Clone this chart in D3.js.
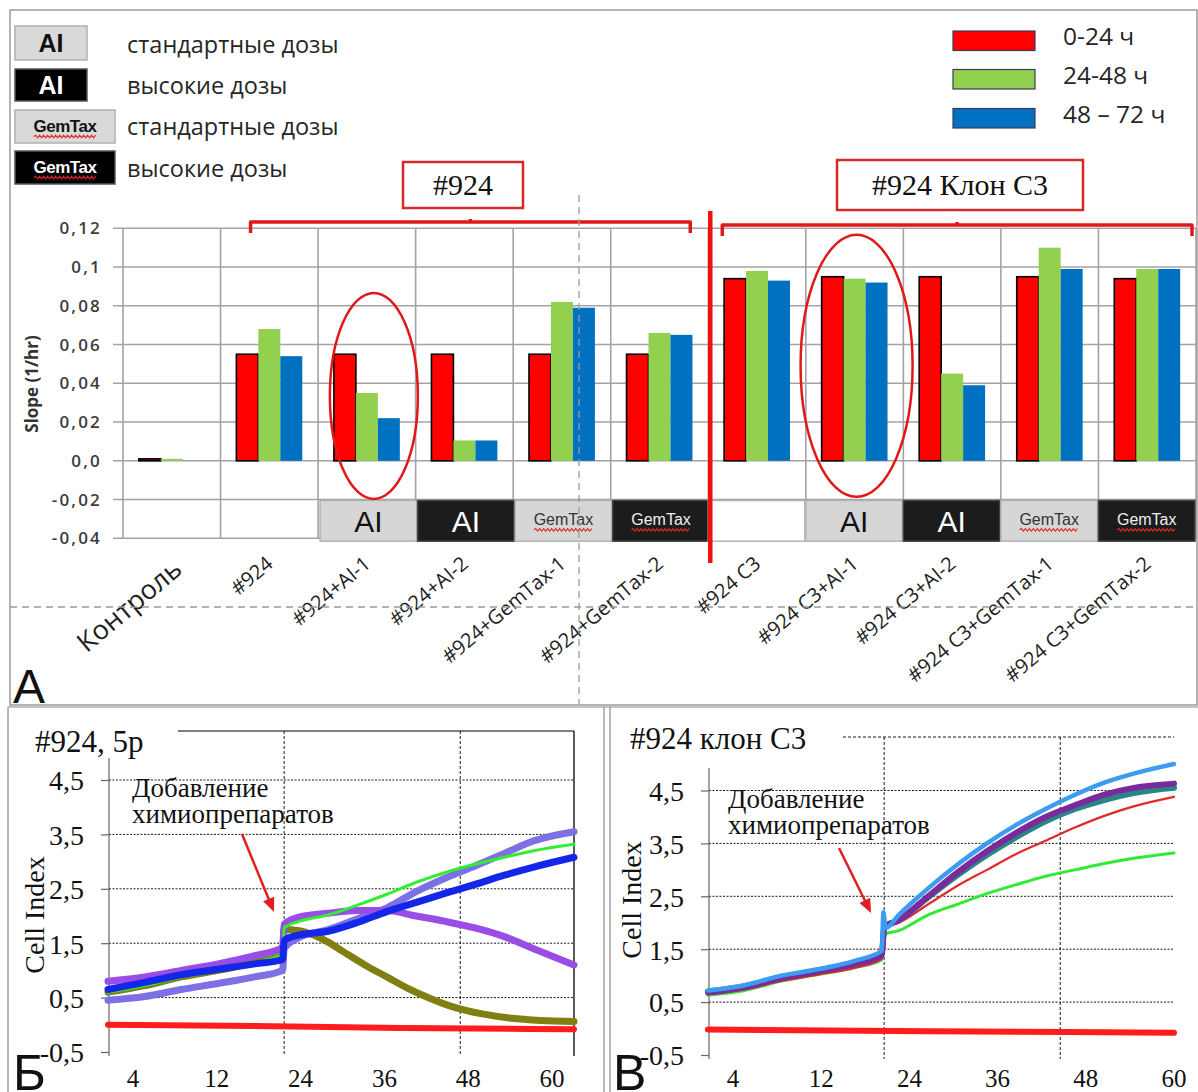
<!DOCTYPE html>
<html><head><meta charset="utf-8">
<script src="https://cdn.jsdelivr.net/npm/d3@7"></script>
<style>body{margin:0;background:#fff}svg{display:block}</style>
</head><body><svg id="chart" width="1198" height="1092"></svg>
<script>
// ---------- DATA: panel A (bar chart) ----------
const barCategories = ["Контроль","#924","#924+AI-1","#924+AI-2","#924+GemTax-1","#924+GemTax-2","#924 C3","#924 C3+AI-1","#924 C3+AI-2","#924 C3+GemTax-1","#924 C3+GemTax-2"];
const seriesNames = ["0-24 ч","24-48 ч","48 – 72 ч"];
const seriesColors = ["#ff0000","#92d050","#0070c0"];
const slope0to24  = [0.001,0.055,0.055,0.055,0.055,0.055,0.094,0.095,0.095,0.095,0.094];
const slope24to48 = [0.001,0.068,0.035,0.0105,0.082,0.066,0.098,0.094,0.045,0.110,0.099];
const slope48to72 = [0.000,0.054,0.022,0.0105,0.079,0.065,0.093,0.092,0.039,0.099,0.099];
const slopeTicks = [-0.04,-0.02,0,0.02,0.04,0.06,0.08,0.1,0.12];
const slopeTickLabels = ["-0,04","-0,02","0,0","0,02","0,04","0,06","0,08","0,1","0,12"];
const doseBoxCats   = ["#924+AI-1","#924+AI-2","#924+GemTax-1","#924+GemTax-2","#924 C3","#924 C3+AI-1","#924 C3+AI-2","#924 C3+GemTax-1","#924 C3+GemTax-2"];
const doseBoxLabels = ["AI","AI","GemTax","GemTax","","AI","AI","GemTax","GemTax"];
const doseBoxKinds  = ["std","high","std","high","none","std","high","std","high"];
const legendBoxLabels = ["AI","AI","GemTax","GemTax"];
const legendBoxKinds  = ["std","high","std","high"];
const legendTexts = ["стандартные дозы","высокие дозы","стандартные дозы","высокие дозы"];

// ---------- DATA: panels Б and В (cell index curves, [hour, CI]) ----------
const timeTickLabels = ["4","12","24","36","48","60"];
const ciTicks = [-0.5,0.5,1.5,2.5,3.5,4.5];
const ciTickLabels = ["-0,5","0,5","1,5","2,5","3,5","4,5"];
const gridHours = [24,48];

const b_control = [[0,0.0],[20,-0.02],[40,-0.06],[63.5,-0.08]];
const b_olive  = [[0,0.6],[5,0.72],[10,0.88],[15,1.0],[20,1.15],[23.8,1.28],[24,1.75],[26,1.73],[28,1.65],[30,1.52],[32,1.35],[35,1.1],[38,0.88],[41,0.66],[44,0.48],[47,0.33],[51,0.2],[55,0.12],[59,0.08],[63.5,0.06]];
const b_slate  = [[0,0.45],[5,0.52],[10,0.65],[15,0.76],[20,0.88],[23.8,1.0],[24,1.4],[26,1.6],[30,1.75],[34,1.95],[38,2.15],[42,2.45],[46,2.7],[50,2.92],[54,3.15],[58,3.38],[63.5,3.55]];
const b_purple = [[0,0.8],[5,0.88],[10,1.0],[15,1.12],[20,1.27],[23.8,1.42],[24,1.85],[26,1.98],[30,2.05],[34,2.1],[38,2.1],[42,2.0],[46,1.9],[50,1.78],[54,1.62],[58,1.4],[63.5,1.1]];
const b_green  = [[0,0.6],[5,0.72],[10,0.88],[15,1.0],[20,1.15],[23.8,1.3],[24,1.78],[26,1.9],[30,2.02],[34,2.2],[38,2.4],[42,2.62],[46,2.8],[50,2.95],[54,3.08],[58,3.2],[63.5,3.32]];
const b_blue   = [[0,0.65],[5,0.78],[10,0.92],[15,1.02],[20,1.12],[23.8,1.2],[24,1.55],[26,1.65],[30,1.72],[34,1.88],[38,2.08],[42,2.25],[46,2.42],[50,2.58],[54,2.75],[58,2.9],[63.5,3.08]];

const v_control = [[0,-0.02],[30,-0.05],[63.5,-0.08]];
const v_red     = [[0,0.65],[5,0.74],[10,0.9],[15,1.02],[20,1.15],[23.7,1.32],[24,1.9],[26,2.0],[30,2.35],[34,2.7],[38,3.0],[42,3.3],[46,3.55],[50,3.8],[54,4.02],[58,4.2],[63.5,4.38]];
const v_green   = [[0,0.63],[5,0.72],[10,0.9],[15,1.02],[20,1.15],[23.7,1.3],[24,1.78],[26,1.85],[30,2.15],[34,2.35],[38,2.55],[42,2.72],[46,2.88],[50,3.0],[54,3.12],[58,3.22],[63.5,3.32]];
const v_teal    = [[0,0.7],[5,0.8],[10,0.97],[15,1.1],[20,1.25],[23.7,1.42],[24,1.92],[26,2.05],[30,2.48],[34,2.9],[38,3.28],[42,3.62],[46,3.92],[50,4.15],[54,4.32],[58,4.45],[63.5,4.55]];
const v_purple  = [[0,0.68],[5,0.78],[10,0.95],[15,1.08],[20,1.22],[23.7,1.38],[24,1.9],[26,2.05],[30,2.5],[34,2.95],[38,3.35],[42,3.7],[46,4.0],[50,4.22],[54,4.42],[58,4.55],[63.5,4.63]];
const v_lblue   = [[0,0.72],[5,0.82],[10,1.0],[15,1.12],[20,1.28],[23.7,1.47],[23.9,2.2],[24.2,1.9],[26,2.15],[30,2.65],[34,3.1],[38,3.5],[42,3.85],[46,4.15],[50,4.42],[54,4.65],[58,4.82],[63.5,5.0]];

// ---------- drawing ----------
const svg = d3.select("#chart");
const SANS = "'Open Sans', 'Noto Sans', sans-serif";
const ARIAL = "'Liberation Sans', Arial, sans-serif";
const SERIF = "'Liberation Serif', 'Times New Roman', serif";

function wavy(g, x0, x1, y) {
  let d = `M${x0},${y}`, up = true;
  for (let x = x0 + 2; x <= x1; x += 2) { d += `L${x},${y + (up ? -1.3 : 1.3)}`; up = !up; }
  g.append("path").attr("d", d).attr("fill","none").attr("stroke","#e02828").attr("stroke-width",1.1);
}
function boxFill(k){ return k==="std" ? "#d6d6d6" : k==="high" ? "#1c1c1c" : "#ffffff"; }
function boxText(k){ return k==="high" ? "#ffffff" : "#111111"; }

// frames
svg.append("rect").attr("x",10).attr("y",10).attr("width",1187).attr("height",695)
  .attr("fill","none").attr("stroke","#8c8c8c").attr("stroke-width",1.3);
[[8,707,8,1092],[604,707,604,1092],[610,707,610,1092],[8,707,1198,707]].forEach(l=>
  svg.append("line").attr("x1",l[0]).attr("y1",l[1]).attr("x2",l[2]).attr("y2",l[3]).attr("stroke","#8c8c8c").attr("stroke-width",1.2));

// ---------- Panel A ----------
const A = svg.append("g");
const xA = d3.scaleBand().domain(barCategories).range([123,1196]);
const bw = xA.bandwidth();
const xSub = d3.scaleBand().domain(seriesNames).range([0,bw]).paddingInner(0).paddingOuter(0.72);
const yA = d3.scaleLinear().domain([-0.04,0.12]).range([538.3,228.3]);

// gridlines
A.selectAll(".hg").data(slopeTicks).join("line")
  .attr("x1",113).attr("x2",1196).attr("y1",d=>yA(d)).attr("y2",d=>yA(d))
  .attr("stroke","#a3a3a3").attr("stroke-width",1.6);
A.selectAll(".vg").data(barCategories.map(c=>xA(c)).concat([1196])).join("line")
  .attr("x1",d=>d).attr("x2",d=>d).attr("y1",yA(0.12)).attr("y2",yA(-0.04))
  .attr("stroke","#a3a3a3").attr("stroke-width",1.6);

// y axis labels
const yAxisA = d3.axisLeft(yA).tickValues(slopeTicks).tickFormat((d,i)=>slopeTickLabels[i]).tickSize(0).tickPadding(21);
const ga = A.append("g").attr("transform","translate(123,0)").call(yAxisA);
ga.select(".domain").remove();
ga.selectAll("text").attr("font-family",SANS).attr("font-size",17).attr("font-weight",600)
  .attr("fill","#3c3c3c").attr("letter-spacing",2.2);
A.append("text").attr("transform","translate(38,384) rotate(-90)").attr("text-anchor","middle")
  .attr("font-family",SANS).attr("font-size",17).attr("font-weight",700).attr("fill","#333").text("Slope (1/hr)");

// bars
const seriesValues = [slope0to24, slope24to48, slope48to72];
seriesNames.forEach((s,si)=>{
  A.append("g").selectAll("rect").data(barCategories).join("rect")
    .attr("x",c=>xA(c)+xSub(s)).attr("width",xSub.bandwidth())
    .attr("y",(c,i)=>yA(Math.max(0,seriesValues[si][i])))
    .attr("height",(c,i)=>Math.abs(yA(seriesValues[si][i])-yA(0)))
    .attr("fill",seriesColors[si])
    .attr("stroke",si===0?"#000":"none").attr("stroke-width",si===0?1.6:0);
});

// dose boxes under bars
doseBoxCats.forEach((c,i)=>{
  const k = doseBoxKinds[i];
  const x0 = xA(c)+ (i<4 ? 2 : 0), w = bw - 1;
  const y0 = yA(-0.0205), h = yA(-0.0415) - yA(-0.0205);
  A.append("rect").attr("x",x0).attr("y",y0).attr("width",w).attr("height",h)
    .attr("fill",boxFill(k)).attr("stroke",k==="high"?"#444":"#b4b4b4").attr("stroke-width",1.5);
  const lab = doseBoxLabels[i];
  if (!lab) return;
  const t = A.append("text").attr("x",x0+w/2).attr("text-anchor","middle").attr("font-family",ARIAL).attr("fill",boxText(k)).text(lab);
  if (lab==="AI") { t.attr("y",y0+h/2+11).attr("font-size",30); }
  else {
    t.attr("y",y0+h/2+4).attr("font-size",16).attr("fill",k==="high"?"#eeeeee":"#333");
    const L = t.node().getComputedTextLength();
    wavy(A, x0+w/2-L/2, x0+w/2+L/2, y0+h/2+9);
  }
});

// x labels
A.selectAll(".xl").data(barCategories).join("text")
  .attr("transform",(d,i)=>`translate(${xA(d)+bw/2+(i===0?12:5)},${i===0?572:566}) rotate(-40)`)
  .attr("text-anchor","end").attr("font-family",SANS).attr("font-weight",(d,i)=>i===0?400:500)
  .attr("font-size",(d,i)=>i===0?27:20).attr("fill","#1e1e1e").text(d=>d);

// red ellipses
const cE1 = xA("#924+AI-1")+bw/2+7, cE2 = xA("#924 C3+AI-1")+bw/2+2;
A.append("ellipse").attr("cx",cE1).attr("cy",yA(0.0335)).attr("rx",44).attr("ry",103)
  .attr("fill","none").attr("stroke","#e01818").attr("stroke-width",2.5);
A.append("ellipse").attr("cx",cE2).attr("cy",yA(0.049)).attr("rx",56).attr("ry",131)
  .attr("fill","none").attr("stroke","#e01818").attr("stroke-width",2.5);

// brackets
function bracket(x0,x1,y){
  const m=(x0+x1)/2;
  A.append("path").attr("d",`M${x0},${y+11}L${x0},${y}L${x1},${y}L${x1},${y+11}M${m},${y}L${m},${y-3}`)
   .attr("fill","none").attr("stroke","#e01818").attr("stroke-width",3.5).attr("stroke-linejoin","round");
}
bracket(xA("#924")+30, xA("#924+GemTax-2")+bw-18, 222);
bracket(xA("#924 C3")+14, 1192, 225);
// vertical red separator
A.append("line").attr("x1",xA("#924 C3")+2).attr("x2",xA("#924 C3")+2).attr("y1",211).attr("y2",563)
  .attr("stroke","#ee1111").attr("stroke-width",4.5);

// group title boxes
function titleBox(x,y,w,h,txt){
  A.append("rect").attr("x",x).attr("y",y).attr("width",w).attr("height",h).attr("fill","#fff")
    .attr("stroke","#d42a2a").attr("stroke-width",2.5);
  A.append("text").attr("x",x+w/2).attr("y",y+h/2+10).attr("text-anchor","middle")
    .attr("font-family",SERIF).attr("font-size",30).attr("fill","#111").text(txt);
}
titleBox(403,162,120,46,"#924");
titleBox(837,160,246,50,"#924 Клон С3");

// gray dashed guides
svg.append("line").attr("x1",579).attr("x2",579).attr("y1",195).attr("y2",705)
  .attr("stroke","#9a9a9a").attr("stroke-width",1.3).attr("stroke-dasharray","7,5");
svg.append("line").attr("x1",10).attr("x2",1198).attr("y1",607).attr("y2",607)
  .attr("stroke","#9a9a9a").attr("stroke-width",1.3).attr("stroke-dasharray","7,5");

// legend left
const legY = [26,69,110,151], legW = [72,72,100,100], legH=[34,32,33,33], legBase=[53,94,135,177];
legendBoxLabels.forEach((lab,i)=>{
  const k = legendBoxKinds[i];
  A.append("rect").attr("x",15).attr("y",legY[i]).attr("width",legW[i]).attr("height",legH[i])
    .attr("fill",k==="std"?"#d9d9d9":"#000").attr("stroke",k==="std"?"#b0b0b0":"#555").attr("stroke-width",1.5);
  const cx = 15+legW[i]/2;
  const t = A.append("text").attr("x",cx).attr("text-anchor","middle").attr("font-family",ARIAL)
    .attr("font-weight",700).attr("fill",k==="std"?"#111":"#fff").text(lab);
  if (lab==="AI") t.attr("y",legY[i]+legH[i]/2+9).attr("font-size",25);
  else {
    t.attr("y",legY[i]+legH[i]/2+5).attr("font-size",17).attr("letter-spacing",-0.5);
    const L = t.node().getComputedTextLength();
    wavy(A, cx-L/2, cx+L/2, legY[i]+legH[i]/2+10);
  }
  A.append("text").attr("x",127).attr("y",legBase[i]).attr("font-family",SANS).attr("font-size",23.5)
    .attr("fill","#262626").text(legendTexts[i]);
});
// legend right
const rlY = [31,69.5,108.5], rlBase=[45,84,123];
seriesNames.forEach((s,i)=>{
  A.append("rect").attr("x",953).attr("y",rlY[i]).attr("width",82).attr("height",19.5)
    .attr("fill",seriesColors[i]).attr("stroke","#3a3a5a").attr("stroke-width",1.2);
  A.append("text").attr("x",1063).attr("y",rlBase[i]).attr("font-family",SANS).attr("font-size",24.5)
    .attr("fill","#262626").text(s);
});
A.append("text").attr("x",13).attr("y",703).attr("font-family",ARIAL).attr("font-size",48).attr("fill","#111").text("А");

// ---------- Cell-index panels ----------
function ciPanel(opt){
  const g = svg.append("g");
  const x = d3.scaleLinear().domain([0,63.5]).range([opt.x0, opt.x1]);
  const y = d3.scaleLinear().domain([-0.5,4.5]).range([opt.yBottom, opt.yTop]);
  g.selectAll(".hg").data(ciTicks.filter(d=>d>0)).join("line")
    .attr("x1",opt.x0+1).attr("x2",opt.x1).attr("y1",d=>y(d)).attr("y2",d=>y(d))
    .attr("stroke","#000").attr("stroke-width",0.9).attr("stroke-dasharray","2,1.5");
  g.selectAll(".vg").data(gridHours).join("line")
    .attr("x1",d=>x(d)).attr("x2",d=>x(d)).attr("y1",opt.plotTop).attr("y2",opt.yBottom+4)
    .attr("stroke","#000").attr("stroke-width",0.9).attr("stroke-dasharray","3,2");
  g.append("line").attr("x1",opt.topFrom).attr("x2",opt.x1).attr("y1",opt.plotTop).attr("y2",opt.plotTop)
    .attr("stroke","#000").attr("stroke-width",opt.rightBorder?1.2:0.9).attr("stroke-dasharray",opt.rightBorder?null:"3,2");
  if (opt.rightBorder) g.append("line").attr("x1",opt.x1).attr("x2",opt.x1).attr("y1",opt.plotTop).attr("y2",opt.yBottom+4)
    .attr("stroke","#000").attr("stroke-width",1.3);
  const ax = d3.axisLeft(y).tickValues(ciTicks).tickFormat((d,i)=>ciTickLabels[i]).tickSize(8).tickPadding(17).tickSizeOuter(0);
  const ga = g.append("g").attr("transform",`translate(${opt.x0+1},0)`).call(ax);
  ga.select(".domain").attr("d",`M0,${opt.axisTop}V${opt.yBottom+4}`).attr("stroke","#666").attr("stroke-width",1.2);
  ga.selectAll(".tick line").attr("stroke","#666").attr("stroke-width",1.2);
  ga.selectAll("text").attr("font-family",SERIF).attr("font-size",28).attr("fill","#111").attr("dy","0.35em");
  const xp = d3.scalePoint().domain(timeTickLabels).range(opt.labRange);
  g.selectAll(".xt").data(timeTickLabels).join("text").attr("x",d=>xp(d)).attr("y",1087)
    .attr("text-anchor","middle").attr("font-family",SERIF).attr("font-size",25).attr("fill","#111").text(d=>d);
  const line = d3.line().x(d=>x(d[0])).y(d=>y(d[1])).curve(d3.curveMonotoneX);
  opt.series.forEach(s=>{
    g.append("path").attr("d",line(s.data)).attr("fill","none").attr("stroke",s.color)
      .attr("stroke-width",s.w).attr("stroke-linejoin","round").attr("stroke-linecap","round");
  });
  g.append("text").attr("x",opt.titleX).attr("y",opt.titleY).attr("font-family",SERIF).attr("font-size",31).attr("fill","#111").text(opt.title);
  g.append("text").attr("x",opt.annX).attr("y",opt.annY).attr("font-family",SERIF).attr("font-size",27).attr("fill","#111").text("Добавление");
  g.append("text").attr("x",opt.annX).attr("y",opt.annY+26).attr("font-family",SERIF).attr("font-size",27).attr("fill","#111").text("химиопрепаратов");
  const [ax0,ay0,ax1,ay1] = opt.arrow;
  const ang = Math.atan2(ay1-ay0, ax1-ax0);
  g.append("line").attr("x1",ax0).attr("y1",ay0).attr("x2",ax1-10*Math.cos(ang)).attr("y2",ay1-10*Math.sin(ang))
    .attr("stroke","#e02020").attr("stroke-width",2.5);
  const hl=14, hw=6;
  const p1=[ax1,ay1], p2=[ax1-hl*Math.cos(ang)+hw*Math.sin(ang), ay1-hl*Math.sin(ang)-hw*Math.cos(ang)],
        p3=[ax1-hl*Math.cos(ang)-hw*Math.sin(ang), ay1-hl*Math.sin(ang)+hw*Math.cos(ang)];
  g.append("path").attr("d",`M${p1}L${p2}L${p3}Z`).attr("fill","#e02020");
  g.append("text").attr("transform",`translate(${opt.ciX},${opt.ciY}) rotate(-90)`).attr("text-anchor","middle")
    .attr("font-family",SERIF).attr("font-size",28).attr("fill","#111").text("Cell Index");
  g.append("text").attr("x",opt.letterX).attr("y",1090).attr("font-family",ARIAL).attr("font-size",50).attr("fill","#111").text(opt.letter);
}

ciPanel({x0:108,x1:574,yBottom:1052,yTop:780,plotTop:731,topFrom:178,axisTop:758,rightBorder:true,
  labRange:[133,552],title:"#924, 5р",titleX:35,titleY:752,annX:132,annY:797,arrow:[242,834,274,912],
  ciX:44,ciY:915,letter:"Б",letterX:13,
  series:[{data:b_control,color:"#ff1c1c",w:6},{data:b_olive,color:"#7f7f12",w:7},{data:b_slate,color:"#7c70e4",w:7},
          {data:b_purple,color:"#9a4ce6",w:7},{data:b_green,color:"#33ee33",w:3},{data:b_blue,color:"#1426e8",w:7}]});

ciPanel({x0:708,x1:1174,yBottom:1055,yTop:790.5,plotTop:737,topFrom:843,axisTop:768,rightBorder:false,
  labRange:[733,1174],title:"#924 клон С3",titleX:630,titleY:749,annX:728,annY:808,arrow:[839,848,871,913],
  ciX:641,ciY:900,letter:"В",letterX:613,
  series:[{data:v_control,color:"#ff1c1c",w:6},{data:v_green,color:"#33ea33",w:3},{data:v_red,color:"#e02a2a",w:2.2},
          {data:v_teal,color:"#2a8585",w:6},{data:v_purple,color:"#7a2a9c",w:6},{data:v_lblue,color:"#3c9cf2",w:4.5}]});
</script></body></html>
